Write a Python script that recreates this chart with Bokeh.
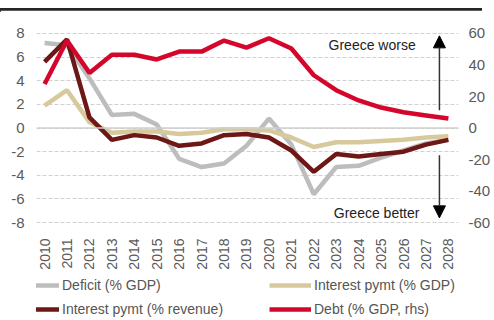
import math
from bokeh.plotting import figure
from bokeh.models import (ColumnDataSource, LinearAxis, Range1d, Legend, LegendItem,
                          Arrow, NormalHead, Label, Span, Div, FixedTicker)
from bokeh.layouts import column
from bokeh.embed import file_html
from bokeh.resources import INLINE

years = list(range(2010, 2029))
deficit = [7.2, 7.0, 4.2, 1.1, 1.2, 0.3, -2.6, -3.3, -3.0, -1.5, 0.8, -1.4, -5.6, -3.3, -3.2, -2.5, -1.9, -1.3, -1.0]
interest_gdp = [1.9, 3.2, 0.5, -0.4, -0.3, -0.3, -0.5, -0.4, -0.1, -0.1, -0.2, -0.8, -1.6, -1.2, -1.2, -1.1, -1.0, -0.8, -0.7]
interest_rev = [5.6, 7.5, 0.9, -1.0, -0.6, -0.8, -1.5, -1.3, -0.6, -0.5, -0.8, -1.9, -3.7, -2.2, -2.4, -2.2, -2.0, -1.4, -1.0]
debt = [28, 55.5, 35, 46.5, 46.5, 43.5, 48.5, 48.5, 55.5, 51, 57, 50.5, 33.5, 24, 17.5, 13, 10, 8, 6]

left_ticks = [-8, -6, -4, -2, 0, 2, 4, 6, 8]
left_labels = ["-8", "-6", "-4", "-2", "0", "2", "4", "6", "8"]
right_ticks = [-60, -40, -20, 0, 20, 40, 60]
right_labels = ["-60", "-40", "-20", "0", "20", "40", "60"]
year_labels = [str(y) for y in years]

series_keys = ["deficit", "igdp", "irev", "debt"]
series_names = ["Deficit (% GDP)", "Interest pymt (% GDP)",
                "Interest pymt (% revenue)", "Debt (% GDP, rhs)"]
series_colors = ["#bdbdbd", "#d7c99c", "#6e1717", "#d5062c"]

FONT = "Liberation Sans"
TICK_COLOR = "#5a5a5a"

src = ColumnDataSource(dict(x=years, deficit=deficit, igdp=interest_gdp,
                            irev=interest_rev, debt=debt))

y_lo, y_hi = -8.5, 8.93
p = figure(width=494, height=262, output_backend="svg", toolbar_location=None,
           x_range=Range1d(2009.64, 2028.45), y_range=Range1d(y_lo, y_hi),
           min_border_left=36, min_border_right=36, min_border_top=12,
           min_border_bottom=44)
p.extra_y_ranges = {"rhs": Range1d(y_lo * 7.5, y_hi * 7.5)}
p.outline_line_color = None

for key, col in zip(series_keys, series_colors):
    kw = dict(y_range_name="rhs") if key == "debt" else {}
    p.line("x", key, source=src, line_color=col, line_width=4.5, **kw)

# axes
p.yaxis.ticker = FixedTicker(ticks=left_ticks)
p.yaxis.major_label_overrides = dict(zip(left_ticks, left_labels))
p.xaxis.ticker = FixedTicker(ticks=years)
p.xaxis.major_label_overrides = dict(zip(years, year_labels))
p.xaxis.major_label_orientation = math.pi / 2

rax = LinearAxis(y_range_name="rhs", ticker=FixedTicker(ticks=right_ticks),
                 major_label_overrides=dict(zip(right_ticks, right_labels)))
p.add_layout(rax, "right")

for ax in [p.xaxis[0], p.yaxis[0], rax]:
    ax.axis_line_color = None
    ax.major_tick_line_color = None
    ax.minor_tick_line_color = None
    ax.major_label_text_font = FONT
    ax.major_label_text_font_size = "15px"
    ax.major_label_text_color = TICK_COLOR
p.xaxis.major_label_text_font_size = "14px"
p.xaxis.major_label_standoff = 4
p.yaxis.major_label_standoff = 6
rax.major_label_standoff = 4

p.xgrid.grid_line_color = None
p.ygrid.grid_line_color = "#d0d0d0"
p.ygrid.grid_line_dash = "4 2"
p.ygrid.grid_line_width = 1
p.add_layout(Span(location=0, dimension="width", line_color="#cfcfcf", line_width=1.5))

# annotations
p.add_layout(Arrow(end=NormalHead(size=12, fill_color="black", line_color="black"),
                   x_start=2027.6, y_start=1.5, x_end=2027.6, y_end=7.8,
                   line_color="#333333", line_width=1.5))
p.add_layout(Arrow(end=NormalHead(size=12, fill_color="black", line_color="black"),
                   x_start=2027.6, y_start=-2.3, x_end=2027.6, y_end=-7.6,
                   line_color="#333333", line_width=1.5))
p.add_layout(Label(x=2024.6, y=7.0, text="Greece worse", text_align="center",
                   text_baseline="middle", text_font=FONT, text_font_size="14px",
                   text_color="#222222"))
p.add_layout(Label(x=2024.8, y=-7.15, text="Greece better", text_align="center",
                   text_baseline="middle", text_font=FONT, text_font_size="14px",
                   text_color="#222222"))

# legend in its own small figure below the chart (lines lie outside its view)
lg = figure(width=494, height=48, output_backend="svg", toolbar_location=None,
            min_border=0, x_axis_location=None, y_axis_location=None,
            x_range=Range1d(0, 1), y_range=Range1d(0, 1))
lg.grid.visible = False
lg.outline_line_color = None
items = []
for key, name, col in zip(series_keys, series_names, series_colors):
    r = lg.line("x", key, source=src, line_color=col, line_width=4.5)
    items.append(LegendItem(label=name, renderers=[r]))
legend = Legend(items=items, orientation="horizontal", ncols=2)
legend.label_text_font = FONT
legend.label_text_font_size = "14px"
legend.label_text_color = "#555555"
legend.glyph_width = 42
legend.glyph_height = 20
legend.label_standoff = 3
legend.label_width = 203
legend.label_height = 20
legend.spacing = 4
legend.padding = 0
legend.margin = 0
legend.border_line_color = None
legend.background_fill_alpha = 0
legend.location = (-19, 1)
lg.add_layout(legend, "center")

bar = Div(text='<div style="width:482px;height:4px;background:#262626;margin-top:3px;"></div>',
          width=494, height=10, margin=(0, 0, 0, 0))
layout = column(bar, p, lg, spacing=0)

open("out.html", "w").write(file_html(layout, INLINE))
